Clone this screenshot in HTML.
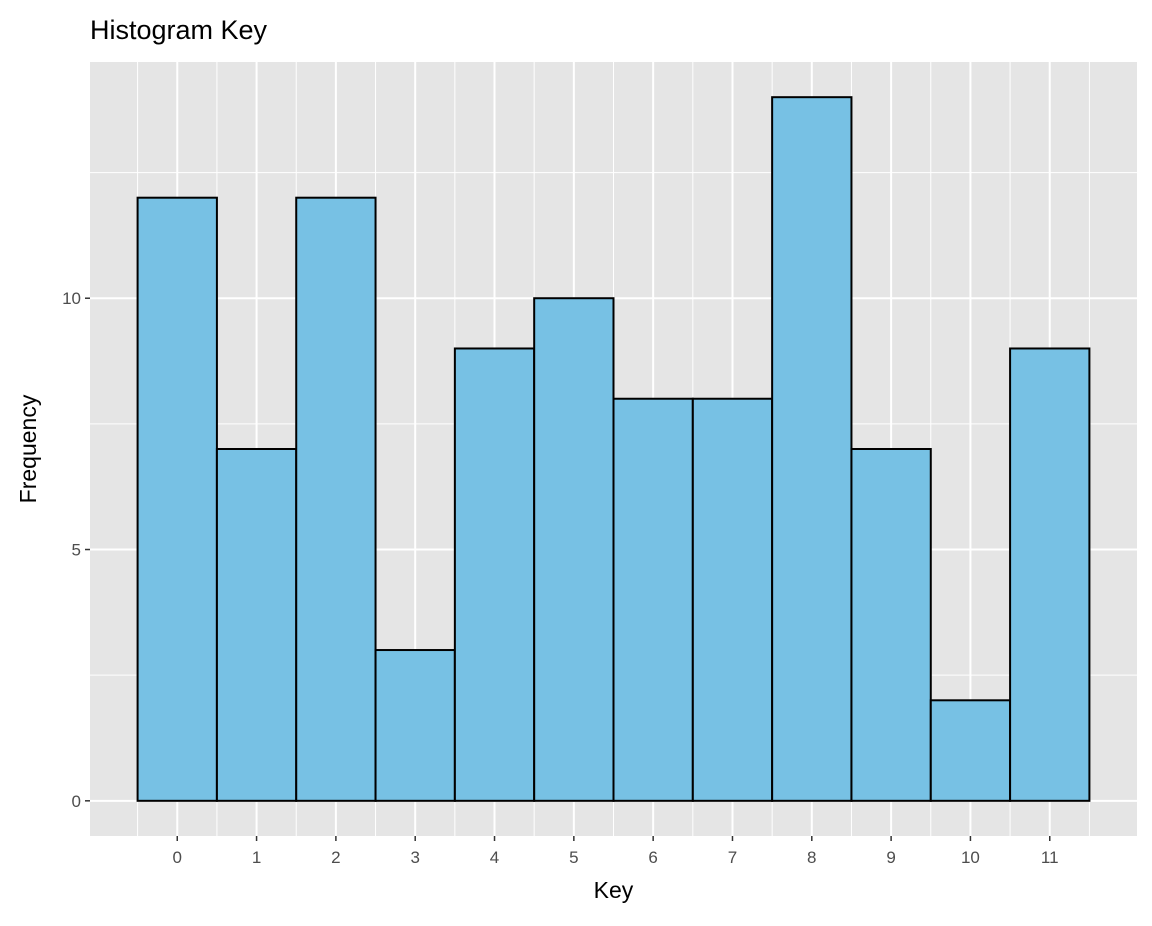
<!DOCTYPE html>
<html><head><meta charset="utf-8"><style>
body{margin:0;background:#fff;font-family:"Liberation Sans",Arial,sans-serif}
</style></head><body>
<svg id="chart" width="1152" height="921" xmlns="http://www.w3.org/2000/svg"></svg>
<script>
const categories=[0,1,2,3,4,5,6,7,8,9,10,11];
const frequencies=[12,7,12,3,9,10,8,8,14,7,2,9];
const yTicks=[0,5,10];
const yMinor=[2.5,7.5,12.5];
const svg=document.getElementById('chart');
const NS='http://www.w3.org/2000/svg';
const L=90,R=1137,T=62,B=836;
const xMin=-1.1,xMax=12.1,yMin=-0.7,yMax=14.7;
const x=v=>L+(v-xMin)/(xMax-xMin)*(R-L);
const y=v=>B-(v-yMin)/(yMax-yMin)*(B-T);
function mk(tag,attrs,text){const e=document.createElementNS(NS,tag);for(const k in attrs)e.setAttribute(k,attrs[k]);if(text!==undefined)e.textContent=text;svg.appendChild(e);return e;}
const bg=mk('rect',{x:L,y:T,width:R-L,height:B-T,fill:'#e5e5e5'});


yMinor.forEach(v=>{const l=mk('line',{x1:L,x2:R,y1:y(v),y2:y(v),stroke:'#fff','stroke-width':1});

});
categories.forEach(c=>{const l=mk('line',{x1:x(c+0.5),x2:x(c+0.5),y1:T,y2:B,stroke:'#fff','stroke-width':1});

});
const lm=mk('line',{x1:x(-0.5),x2:x(-0.5),y1:T,y2:B,stroke:'#fff','stroke-width':1});


yTicks.forEach(v=>{const l=mk('line',{x1:L,x2:R,y1:y(v),y2:y(v),stroke:'#fff','stroke-width':2});


const t=mk('line',{x1:L-5,x2:L,y1:y(v),y2:y(v),stroke:'#333','stroke-width':1.5});


const tx=mk('text',{x:L-9,y:y(v)+6,'text-anchor':'end','font-size':17,fill:'#4d4d4d'},v);

});
categories.forEach(c=>{const l=mk('line',{x1:x(c),x2:x(c),y1:T,y2:B,stroke:'#fff','stroke-width':2});

});
categories.forEach((c,i)=>{const r=mk('rect',{x:x(c-0.5),y:y(frequencies[i]),width:x(c+0.5)-x(c-0.5),height:y(0)-y(frequencies[i]),fill:'#77c1e4',stroke:'#000','stroke-width':2});


const t=mk('line',{x1:x(c),x2:x(c),y1:B,y2:B+5,stroke:'#333','stroke-width':1.5});


const tx=mk('text',{x:x(c),y:B+27,'text-anchor':'middle','font-size':17,fill:'#4d4d4d'},c);

});
const xt=mk('text',{x:(L+R)/2,y:898,'text-anchor':'middle','font-size':23,fill:'#000'},'Key');


const yt=mk('text',{x:0,y:0,'text-anchor':'middle','font-size':23,fill:'#000',transform:`translate(36,${(T+B)/2}) rotate(-90)`},'Frequency');


const ti=mk('text',{x:90,y:39,'font-size':27,fill:'#000'},'Histogram Key');


</script>
</body></html>
